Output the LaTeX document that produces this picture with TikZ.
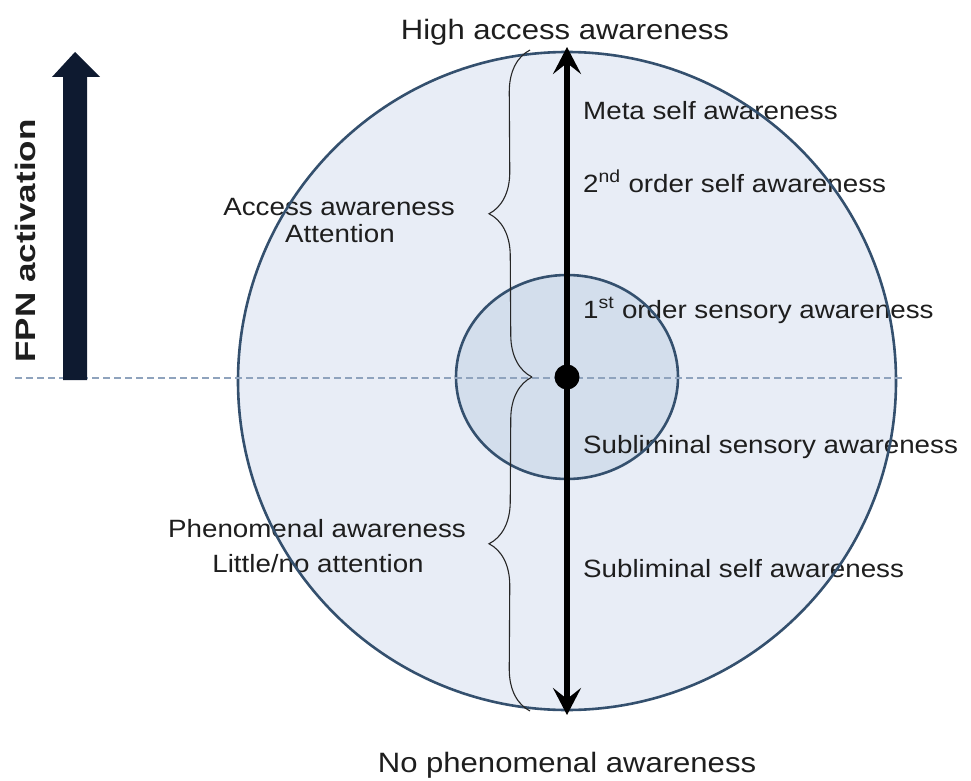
\documentclass[tikz,border=0pt]{standalone}
\usepackage{fontspec}
\setmainfont{Liberation Sans}
\usetikzlibrary{arrows.meta,decorations.pathreplacing}
\definecolor{bigfill}{HTML}{E8EDF6}
\definecolor{smallfill}{HTML}{D3DEEC}
\definecolor{ringcol}{HTML}{34506E}
\definecolor{dashcol}{HTML}{8FA3BD}
\definecolor{navy}{HTML}{0E1A30}
\definecolor{txt}{HTML}{1E1E1E}
\tikzset{
  lbl/.style={text=txt, inner sep=0pt, font=\fontsize{25}{30}\selectfont},
  ttl/.style={text=txt, inner sep=0pt, font=\fontsize{28}{33}\selectfont},
  ring/.style={draw=ringcol, line width=2.6pt},
  bracestyle/.style={draw=black!85, line width=1.1pt, decorate, decoration={brace, amplitude=42pt}},
}
\newcommand{\widen}[1]{\scalebox{1.11}[1]{#1}}
\begin{document}
\begin{tikzpicture}[x=1pt,y=-1pt]
\useasboundingbox (0,0) rectangle (971,781);
% fills
\fill[bigfill] (567,381) circle (329);
\fill[smallfill] (567,377) ellipse (111 and 102);
% texts (under outlines)
\node[ttl, anchor=base] (top) at (565,40) {\widen{High access awareness}};
\node[ttl, anchor=base] (bot) at (567,772) {\widen{No phenomenal awareness}};
\node[lbl, anchor=base west] (meta) at (583,120) {\widen{Meta self awareness}};
\node[lbl, anchor=base west] (second) at (583,192) {\widen{2\textsuperscript{nd} order self awareness}};
\node[lbl, anchor=base west] (first) at (583,318) {\widen{1\textsuperscript{st} order sensory awareness}};
\node[lbl, anchor=base west] (subsens) at (583,453) {\widen{Subliminal sensory awareness}};
\node[lbl, anchor=base west] (subself) at (583,577) {\widen{Subliminal self awareness}};
\node[lbl, anchor=base] (access) at (339,215) {\widen{Access awareness}};
\node[lbl, anchor=base] (attn) at (340,242) {\widen{Attention}};
\node[lbl, anchor=base] (phen) at (317,537) {\widen{Phenomenal awareness}};
\node[lbl, anchor=base] (little) at (318,572) {\widen{Little/no attention}};
\node[ttl, rotate=90, anchor=center] (fpn) at (25,241) {\scalebox{1.25}[1]{\bfseries FPN activation}};
% outlines
\draw[ring] (567,381) circle (329);
\draw[ring] (567,377) ellipse (111 and 102);
% dashed line
\coordinate (dl) at (15,378);
\coordinate (dr) at (902,378);
\draw[dashcol, line width=1.4pt, dash pattern=on 7pt off 4pt] (dl) -- (dr);
% FPN arrow
\coordinate (fb) at (75,380);
\coordinate (ft) at (75,52);
\fill[navy] (63,380) -- (63,77) -- (52,77) -- (ft) -- (100,77) -- (87,77) -- (87,380) -- cycle;
% braces
\coordinate (bt) at (530,50);
\coordinate (bm) at (532,377);
\coordinate (bb) at (530,711);
\draw[bracestyle] (bm) -- (bt);
\draw[bracestyle] (bb) -- (bm);
% main arrow
\coordinate (at) at (567,47);
\coordinate (ab) at (567,715);
\node[circle, fill=black, minimum size=25pt, inner sep=0pt] (dot) at (567,377) {};
\draw[line width=5.5pt, {Stealth[length=27pt,width=28pt,inset=11pt]}-{Stealth[length=27pt,width=28pt,inset=11pt]}] (at) -- (ab);
\end{tikzpicture}
\end{document}
